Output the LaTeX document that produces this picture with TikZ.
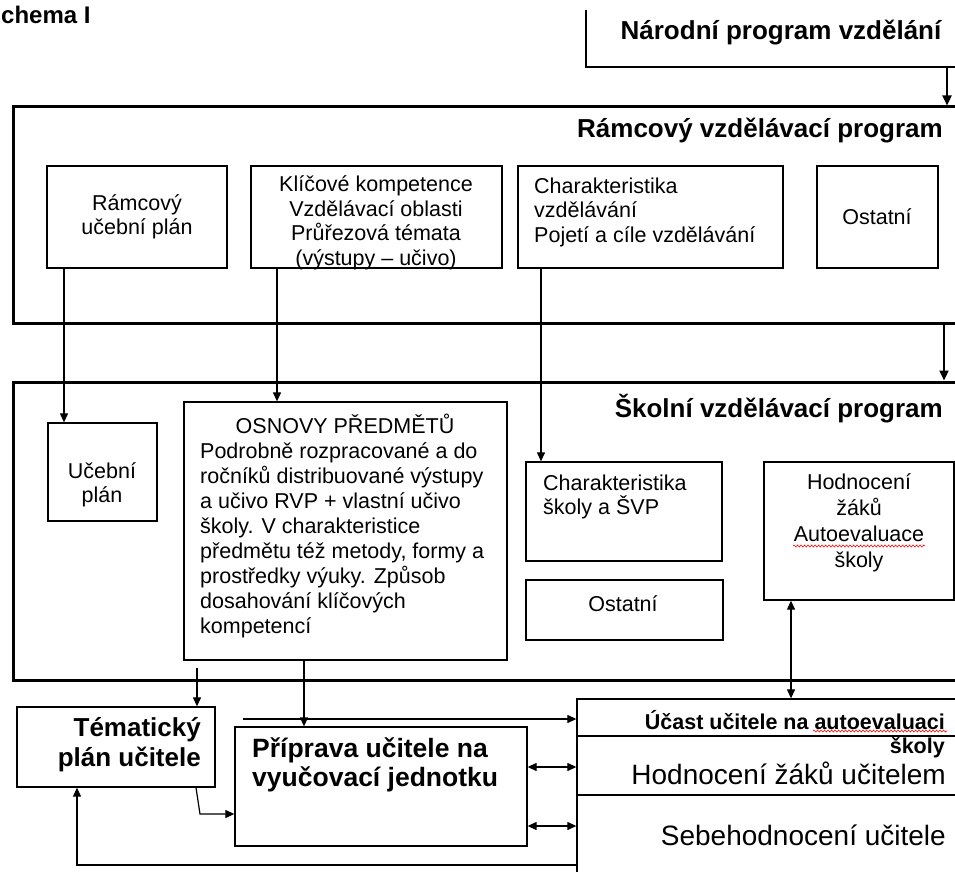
\documentclass[tikz,border=0pt]{standalone}
\usepackage{fontspec}
\setmainfont{Liberation Sans}
\usetikzlibrary{arrows.meta,fit,decorations.pathmorphing}
\begin{document}
\begin{tikzpicture}[x=1pt,y=-1pt,
  box/.style={draw, line width=1.3pt, inner sep=0pt},
  bigbox/.style={draw, line width=3pt, inner sep=0pt},
  con/.style={line width=1.2pt, -{Triangle[length=9pt,width=8pt]}},
  dcon/.style={line width=1.2pt, {Triangle[length=9pt,width=8pt]}-{Triangle[length=9pt,width=8pt]}},
  thickcon/.style={line width=2.2pt, -{Triangle[length=10pt,width=9pt]}},
  title/.style={inner sep=0pt, font=\fontsize{26}{30}\selectfont\bfseries},
  small/.style={inner sep=0pt, font=\fontsize{21.5}{24.5}\selectfont},
  osnfont/.style={inner sep=0pt, font=\fontsize{21.5}{25}\selectfont},
  boldtxt/.style={inner sep=0pt, font=\fontsize{26}{30}\selectfont\bfseries},
  pripfont/.style={inner sep=0pt, font=\fontsize{26.5}{29}\selectfont\bfseries},
  ucfont/.style={inner sep=0pt, font=\fontsize{21.5}{24}\selectfont\bfseries},
  big/.style={inner sep=0pt, font=\fontsize{28}{32}\selectfont},
  spell/.style={red, line width=0.6pt, decorate, decoration={snake, amplitude=1pt, segment length=3.5pt}}
]
\useasboundingbox (0,0) rectangle (955,872);

% heading
\node[inner sep=0pt, font=\fontsize{24}{28}\selectfont\bfseries, anchor=base west] (sch) at (1,24) {chema I};

% Narodni program
\node[inner sep=0pt, fit={(586,10) (990,67)}] (np) {};
\draw[line width=2.2pt] (np.north west) -- (np.south west) -- (np.south east);
\node[title] (npt) at (781,33) {Národní program vzdělání};

% RVP
\node[bigbox, fit={(13,107) (990,323)}] (rvp) {};
\node[title, anchor=east] (rvpt) at (943,131) {Rámcový vzdělávací program};
\node[box, fit={(47,166) (227,268)}] (rup) {};
\node[small, align=center] (rupt) at (137,217) {Rámcový\\učební plán};
\node[box, fit={(251,166) (502,268)}] (kk) {};
\node[small, align=center] (kkt) at (376,223) {Klíčové kompetence\\Vzdělávací oblasti\\Průřezová témata\\(výstupy – učivo)};
\node[box, fit={(518,166) (783,268)}] (chv) {};
\node[small, align=left, anchor=west] (chvt) at (534,212) {Charakteristika\\vzdělávání\\Pojetí a cíle vzdělávání};
\node[box, fit={(817,166) (938,268)}] (ost1) {};
\node[small] (ost1t) at (877,217) {Ostatní};

% SVP
\node[bigbox, fit={(13,382) (990,680)}] (svp) {};
\node[title, anchor=east] (svpt) at (943,409) {Školní vzdělávací program};
\node[box, fit={(48,423) (157,521)}] (up) {};
\node[small, align=center] (upt) at (102,485) {Učební\\plán};
\node[box, fit={(184,402) (507,660)}] (osn) {};
\node[osnfont] (osnh) at (345,424) {OSNOVY PŘEDMĚTŮ};
\node[osnfont, align=left, anchor=west] (osnt) at (200,540) {Podrobně rozpracované a do\\ročníků distribuované výstupy\\a učivo RVP + vlastní učivo\\školy. V charakteristice\\předmětu též metody, formy a\\prostředky výuky. Způsob\\dosahování klíčových\\kompetencí};
\node[box, fit={(526,462) (722,561)}] (chs) {};
\node[small, align=left, anchor=west] (chst) at (543,497) {Charakteristika\\školy a ŠVP};
\node[box, fit={(526,580) (723,640)}] (ost2) {};
\node[small] (ost2t) at (623,604) {Ostatní};
\node[box, fit={(764,462) (954,600)}] (hz) {};
\node[small, align=center, font=\fontsize{21.5}{26}\selectfont] (hzt) at (859,523) {Hodnocení\\žáků\\Autoevaluace\\školy};
\draw[spell] (793,546) -- (925,546);

% bottom part
\node[box, fit={(17,707) (215,787)}] (tp) {};
\node[boldtxt, align=right, anchor=east] (tpt) at (201,745) {Tématický\\plán učitele};
\node[box, fit={(235,727) (527,846)}] (pr) {};
\node[pripfont, align=left, anchor=west] (prt) at (252,765) {Příprava učitele na\\vyučovací jednotku};

\node[box, fit={(577,699) (990,736)}] (rc1) {};
\node[box, fit={(577,736) (990,795)}] (rc2) {};
\node[box, fit={(577,795) (990,900)}] (rc3) {};
\node[ucfont, anchor=east] (uct) at (945,720) {Účast učitele na autoevaluaci};
\draw[spell] (813,731) -- (947,731);
\node[ucfont, anchor=east] (skt) at (945,748) {školy};
\node[big, anchor=east] (hzu) at (946,773) {Hodnocení žáků učitelem};
\node[big, anchor=east] (seb) at (946,835) {Sebehodnocení učitele};

% helper coordinates
\coordinate (x947) at (947,0);
\coordinate (x944) at (944,0);
\coordinate (x64) at (64,0);
\coordinate (x277) at (277,0);
\coordinate (x541) at (541,0);
\coordinate (x791) at (791,0);
\coordinate (x304) at (304,0);
\coordinate (x196) at (196,0);
\coordinate (x77) at (77,0);
\coordinate (s197) at (197,668);
\coordinate (a243) at (243,719);
\coordinate (bend) at (200,814);
\coordinate (y767) at (0,767);
\coordinate (y826) at (0,826);
\coordinate (y865) at (0,865);

% connectors
\draw[thickcon] (np.south -| x947) -- (rvp.north -| x947);
\draw[thickcon] (rvp.south -| x944) -- (svp.north -| x944);
\draw[con] (rup.south -| x64) -- (up.north -| x64);
\draw[con] (kk.south -| x277) -- (osn.north -| x277);
\draw[con] (chv.south -| x541) -- (chs.north -| x541);
\draw[dcon] (hz.south -| x791) -- (rc1.north -| x791);
\draw[con] (s197) -- (tp.north -| s197);
\draw[con] (osn.south -| x304) -- (pr.north -| x304);
\draw[con] (a243) -- (rc1.west |- a243);
\draw[dcon] (pr.east |- y767) -- (rc2.west |- y767);
\draw[dcon] (pr.east |- y826) -- (rc3.west |- y826);
\draw[con] (tp.south -| x196) -- (bend) -- (pr.west |- bend);
\draw[con] (rc3.west |- y865) -- (x77 |- y865) -- (tp.south -| x77);
\end{tikzpicture}
\end{document}
